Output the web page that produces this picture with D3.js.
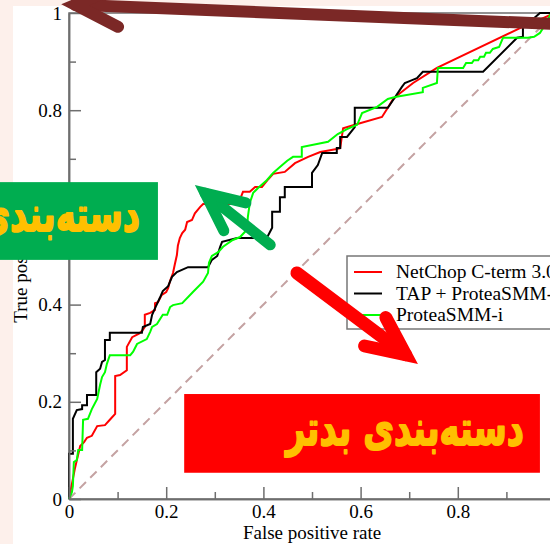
<!DOCTYPE html>
<html>
<head>
<meta charset="utf-8">
<script src="https://cdn.jsdelivr.net/npm/d3@7"></script>
<style>
    html, body { margin: 0; padding: 0; background: #fdf0eb; }
    svg { display: block; }
</style>
</head>
<body>
<div id="chart"></div>
<script>
// ROC curves: false positive rate (x) / true positive rate (y)
const netchopFpr = [0, 0.012, 0.023, 0.031, 0.037, 0.047, 0.058, 0.074, 0.084, 0.095, 0.095, 0.105, 0.119, 0.119,
    0.130, 0.144, 0.152, 0.156, 0.156, 0.167, 0.177, 0.177, 0.183, 0.191, 0.200, 0.204, 0.208, 0.214, 0.218, 0.222,
    0.224, 0.228, 0.233, 0.239, 0.243, 0.253, 0.259, 0.270, 0.276, 0.348, 0.358, 0.372, 0.383, 0.397, 0.410, 0.420,
    0.444, 0.465, 0.492, 0.517, 0.551, 0.558, 0.564, 0.588, 0.644, 0.656, 0.667, 0.681, 0.708, 0.757, 0.928, 1];
const netchopTpr = [0, 0.062, 0.109, 0.117, 0.126, 0.130, 0.150, 0.152, 0.163, 0.175, 0.253, 0.255, 0.265, 0.313,
    0.333, 0.340, 0.348, 0.354, 0.379, 0.383, 0.389, 0.403, 0.405, 0.420, 0.426, 0.434, 0.449, 0.465, 0.484, 0.502,
    0.521, 0.537, 0.547, 0.554, 0.570, 0.574, 0.588, 0.601, 0.607, 0.607, 0.632, 0.632, 0.642, 0.642, 0.658, 0.669,
    0.673, 0.691, 0.704, 0.714, 0.720, 0.722, 0.763, 0.770, 0.786, 0.805, 0.823, 0.835, 0.856, 0.887, 0.969, 1];

const tapFpr = [0, 0, 0.008, 0.008, 0.016, 0.027, 0.027, 0.037, 0.037, 0.056, 0.056, 0.064, 0.068, 0.074, 0.074,
    0.084, 0.084, 0.150, 0.152, 0.167, 0.171, 0.179, 0.187, 0.193, 0.204, 0.212, 0.222, 0.245, 0.286, 0.294, 0.305,
    0.311, 0.315, 0.346, 0.407, 0.418, 0.418, 0.434, 0.434, 0.444, 0.444, 0.500, 0.500, 0.512, 0.521, 0.551, 0.551,
    0.558, 0.558, 0.572, 0.588, 0.588, 0.656, 0.667, 0.685, 0.691, 0.706, 0.716, 0.728, 0.852, 0.922, 0.934, 0.934,
    0.969, 1];
const tapTpr = [0, 0.093, 0.093, 0.165, 0.183, 0.185, 0.193, 0.193, 0.214, 0.214, 0.261, 0.268, 0.282, 0.286, 0.327,
    0.327, 0.342, 0.342, 0.354, 0.360, 0.379, 0.397, 0.414, 0.428, 0.438, 0.457, 0.467, 0.477, 0.477, 0.492, 0.500,
    0.519, 0.529, 0.537, 0.537, 0.558, 0.591, 0.591, 0.621, 0.621, 0.642, 0.642, 0.671, 0.687, 0.712, 0.712, 0.722,
    0.722, 0.745, 0.745, 0.765, 0.805, 0.805, 0.821, 0.848, 0.856, 0.862, 0.866, 0.879, 0.879, 0.949, 0.951, 0.969,
    1, 1];

const smmFpr = [0, 0.006, 0.008, 0.010, 0.016, 0.019, 0.027, 0.029, 0.039, 0.047, 0.058, 0.064, 0.068, 0.074, 0.078,
    0.084, 0.126, 0.132, 0.140, 0.160, 0.167, 0.171, 0.181, 0.193, 0.202, 0.208, 0.214, 0.233, 0.255, 0.276, 0.286,
    0.288, 0.294, 0.307, 0.317, 0.337, 0.352, 0.366, 0.368, 0.372, 0.379, 0.389, 0.407, 0.420, 0.434, 0.449, 0.461,
    0.479, 0.479, 0.533, 0.553, 0.572, 0.593, 0.603, 0.634, 0.656, 0.671, 0.728, 0.728, 0.757, 0.759, 0.811, 0.817,
    0.829, 0.833, 0.842, 0.846, 0.854, 0.858, 0.866, 0.872, 0.885, 0.893, 0.944, 0.957, 0.969, 0.979, 0.990, 1];
const smmTpr = [0, 0.014, 0.027, 0.076, 0.080, 0.101, 0.101, 0.163, 0.165, 0.185, 0.206, 0.235, 0.251, 0.261, 0.278,
    0.296, 0.296, 0.303, 0.319, 0.329, 0.344, 0.354, 0.360, 0.379, 0.379, 0.395, 0.399, 0.403, 0.426, 0.447, 0.465,
    0.486, 0.500, 0.508, 0.519, 0.533, 0.539, 0.554, 0.580, 0.609, 0.630, 0.640, 0.656, 0.671, 0.683, 0.696, 0.704,
    0.704, 0.724, 0.735, 0.751, 0.761, 0.770, 0.794, 0.807, 0.823, 0.827, 0.837, 0.846, 0.856, 0.887, 0.887, 0.897,
    0.897, 0.903, 0.903, 0.910, 0.910, 0.918, 0.918, 0.926, 0.930, 0.949, 0.949, 0.951, 0.959, 0.975, 0.996, 1];

const seriesNames = ['NetChop C-term 3.0', 'TAP + ProteaSMM-i', 'ProteaSMM-i'];
const majorTicks = [0, 0.2, 0.4, 0.6, 0.8, 1];
const majorTickLabels = ['0', '0.2', '0.4', '0.6', '0.8', '1'];
const minorTicks = [0.1, 0.3, 0.5, 0.7, 0.9];
const xTitle = 'False positive rate';
const yTitle = 'True positive rate';
const betterLabel = 'دستەبندی بهتر';
const worseLabel = 'دستەبندی بدتر';

const series = [
    {name: seriesNames[0], points: d3.zip(netchopFpr, netchopTpr), color: '#ff0000'},
    {name: seriesNames[1], points: d3.zip(tapFpr, tapTpr), color: '#000000'},
    {name: seriesNames[2], points: d3.zip(smmFpr, smmTpr), color: '#00ff00'}
];

const margin = {top: 13, left: 69},
    width = 486,
    height = 486;
const serif = '"Liberation Serif", "Times New Roman", serif';
const axisGrey = '#6e6e6e';

const x = d3.scaleLinear().domain([0, 1]).range([0, width]);
const y = d3.scaleLinear().domain([0, 1]).range([height, 0]);

const root = d3.select('#chart')
    .append('svg')
    .attr('width', 550)
    .attr('height', 544);

// white sheet on the pink page
root.append('rect')
    .attr('x', 13).attr('y', 6)
    .attr('width', 550).attr('height', 544)
    .attr('fill', '#ffffff');

const svg = root.append('g')
    .attr('transform', `translate(${margin.left},${margin.top})`);

// frame
svg.append('rect')
    .attr('width', width).attr('height', height)
    .attr('fill', 'none')
    .attr('stroke', axisGrey)
    .attr('stroke-width', 1.5);

// diagonal (random classifier)
const line = d3.line()
    .x(d => x(d[0]))
    .y(d => y(d[1]));

svg.append('path')
    .attr('d', line([[0, 0], [1, 1]]))
    .attr('fill', 'none')
    .attr('stroke', '#c4a2a2')
    .attr('stroke-width', 2)
    .attr('stroke-dasharray', '9,6');

// curves
series.forEach(s => {
    svg.append('path')
        .attr('d', line(s.points))
        .attr('fill', 'none')
        .attr('stroke', s.color)
        .attr('stroke-width', 2)
        .attr('stroke-linejoin', 'miter');
});

function styleAxis(g) {
    g.attr('font-family', serif).attr('font-size', 19);
    g.selectAll('line, path').attr('stroke', axisGrey).attr('stroke-width', 1.5);
    g.selectAll('text').attr('fill', '#000');
}

// minor ticks
svg.append('g')
    .attr('transform', `translate(0,${height})`)
    .call(d3.axisBottom(x).tickValues(minorTicks).tickFormat('').tickSize(-7).tickSizeOuter(0))
    .call(styleAxis);
svg.append('g')
    .call(d3.axisLeft(y).tickValues(minorTicks).tickFormat('').tickSize(-7).tickSizeOuter(0))
    .call(styleAxis);

// major ticks
svg.append('g')
    .attr('transform', `translate(0,${height})`)
    .call(d3.axisBottom(x).tickValues(majorTicks).tickFormat((d, i) => majorTickLabels[i])
        .tickSize(-12).tickSizeOuter(0).tickPadding(6))
    .call(styleAxis);
svg.append('g')
    .call(d3.axisLeft(y).tickValues(majorTicks).tickFormat((d, i) => majorTickLabels[i])
        .tickSize(-12).tickSizeOuter(0).tickPadding(7))
    .call(styleAxis);

// axis titles
svg.append('text')
    .attr('x', width / 2)
    .attr('y', height + 40)
    .attr('text-anchor', 'middle')
    .attr('font-family', serif)
    .attr('font-size', 19)
    .text(xTitle);

svg.append('text')
    .attr('transform', `translate(${-42},${height / 2}) rotate(-90)`)
    .attr('text-anchor', 'middle')
    .attr('font-family', serif)
    .attr('font-size', 19)
    .text(yTitle);

// legend
const legend = svg.append('g')
    .attr('transform', 'translate(278,243)');
legend.append('rect')
    .attr('width', 240).attr('height', 73)
    .attr('fill', '#fff')
    .attr('stroke', '#777')
    .attr('stroke-width', 1.5);
series.forEach((s, i) => {
    const ly = 16 + i * 21.5;
    legend.append('line')
        .attr('x1', 7).attr('x2', 35)
        .attr('y1', ly).attr('y2', ly)
        .attr('stroke', s.color)
        .attr('stroke-width', 2);
    legend.append('text')
        .attr('x', 49).attr('y', ly + 6)
        .attr('font-family', serif)
        .attr('font-size', 19.5)
        .text(s.name);
});

// annotation arrows (positions in chart units)
const arrows = [
    {from: [1.01, 0.977], to: [-0.016, 1.018], color: '#7b2826', w: 12, head: 48},
    {from: [0.414, 0.523], to: [0.259, 0.646], color: '#00ad50', w: 11, head: 42},
    {from: [0.469, 0.465], to: [0.718, 0.278], color: '#ff0000', w: 13, head: 42}
];
const spread = 25 * Math.PI / 180;
arrows.forEach(a => {
    const x1 = x(a.from[0]), y1 = y(a.from[1]);
    const tx = x(a.to[0]), ty = y(a.to[1]);
    const ang = Math.atan2(y1 - ty, x1 - tx);
    // pull the vertex back so the mitred point lands on the tip
    const back = (a.w / 2) / Math.sin(spread);
    const vx = tx + back * Math.cos(ang), vy = ty + back * Math.sin(ang);
    const b1 = [vx + a.head * Math.cos(ang + spread), vy + a.head * Math.sin(ang + spread)];
    const b2 = [vx + a.head * Math.cos(ang - spread), vy + a.head * Math.sin(ang - spread)];
    svg.append('path')
        .attr('d', `M${x1},${y1}L${vx},${vy}`)
        .attr('stroke', a.color)
        .attr('stroke-width', a.w)
        .attr('stroke-linecap', 'round')
        .attr('fill', 'none');
    svg.append('path')
        .attr('d', `M${b1[0]},${b1[1]}L${vx},${vy}L${b2[0]},${b2[1]}`)
        .attr('stroke', a.color)
        .attr('stroke-width', a.w)
        .attr('stroke-linecap', 'round')
        .attr('stroke-linejoin', 'miter')
        .attr('stroke-miterlimit', 10)
        .attr('fill', 'none');
});

// label boxes
const boxes = [
    {x0: -0.142, x1: 0.183, y0: 0.492, y1: 0.652, fill: '#00ad50', label: betterLabel, right: 0.146, base: 0.551},
    {x0: 0.237, x1: 0.969, y0: 0.054, y1: 0.216, fill: '#ff0000', label: worseLabel, right: 0.936, base: 0.111}
];
const arabicFont = '"DejaVu Sans", sans-serif';
const arabicSize = (() => {
    const probe = svg.append('text')
        .attr('font-family', arabicFont)
        .attr('font-weight', 'bold')
        .attr('font-size', 36)
        .text(worseLabel);
    const len = probe.node().getComputedTextLength();
    probe.remove();
    return 36 * 238 / len;
})();
boxes.forEach(b => {
    svg.append('rect')
        .attr('x', x(b.x0)).attr('y', y(b.y1))
        .attr('width', x(b.x1) - x(b.x0))
        .attr('height', y(b.y0) - y(b.y1))
        .attr('fill', b.fill);
    const t = svg.append('text')
        .attr('font-family', arabicFont)
        .attr('font-weight', 'bold')
        .attr('font-size', arabicSize)
        .attr('fill', '#ffc000')
        .attr('stroke', '#ffc000')
        .attr('stroke-width', 1.3)
        .attr('stroke-linejoin', 'round')
        .attr('text-anchor', 'middle')
        .text(b.label);
    const len = t.node().getComputedTextLength();
    // the reference face is much taller than DejaVu, stretch it about the baseline
    t.attr('transform', `translate(${x(b.right) - len / 2},${y(b.base)}) scale(1,1.45)`);
});
</script>
</body>
</html>
